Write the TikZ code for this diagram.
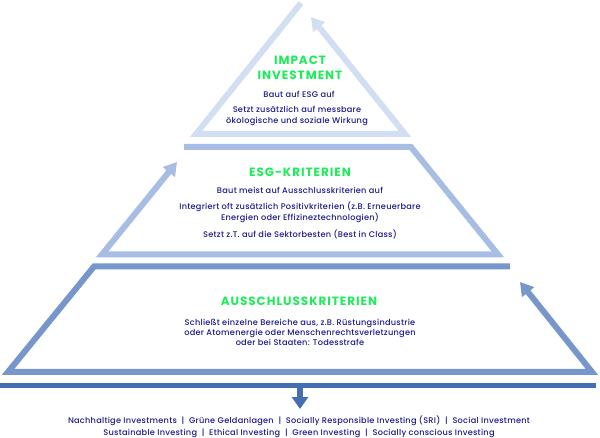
\documentclass[tikz,border=0pt]{standalone}
\usepackage{fontspec}
\setmainfont{Poppins}
\newfontfamily\headfont[LetterSpace=8]{Poppins}
\newfontfamily\bodyfont[LetterSpace=3]{Poppins Medium}
\usetikzlibrary{arrows.meta}
\definecolor{tierA}{HTML}{D2DEF2}
\definecolor{tierB}{HTML}{A8BDE3}
\definecolor{tierC}{HTML}{7696CC}
\definecolor{barblue}{HTML}{446EB4}
\definecolor{headgreen}{HTML}{1EEB5A}
\definecolor{textblue}{HTML}{1A1A8A}

\begin{document}
\begin{tikzpicture}[x=1pt, y=-1pt, line width=6pt,
	tip/.style={-{Triangle[length=13pt,width=15pt]}},
	head/.style={font=\headfont\bfseries\fontsize{12}{15}\selectfont, text=headgreen, align=center, inner sep=0pt},
	body/.style={font=\bodyfont\fontsize{8.2}{11}\selectfont, text=textblue, align=center, inner sep=0pt}]
		\useasboundingbox (0,0) rectangle (600,438);
		
		\coordinate (A) at (301,3);
		\coordinate (B) at (196,134);
		\coordinate (C) at (405,134);
		\coordinate (D) at (311,17);
		
		\coordinate (E) at (184,147);
		\coordinate (F) at (411,147);
		\coordinate (G) at (498,254.5);
		\coordinate (H) at (102,254.5);
		\coordinate (I) at (177,162);
		
		\coordinate (J) at (510,266.5);
		\coordinate (K) at (94,266.5);
		\coordinate (L) at (8,372);
		\coordinate (M) at (592,372);
		\coordinate (N) at (520,282);
		
		\coordinate (P) at (0,385.5);
		\coordinate (Q) at (596,385.5);
		\coordinate (R) at (300,385.5);
		\coordinate (S) at (300,409);
		
		\draw[tierA, tip] (A) -- (B) -- (C) -- (D);
		\draw[tierB, tip] (E) -- (F) -- (G) -- (H) -- (I);
		\draw[tierC, tip] (J) -- (K) -- (L) -- (M) -- (N);
		\draw[barblue, line width=5pt] (P) -- (Q);
		\draw[barblue, -{Triangle[length=12pt,width=16pt]}] (R) -- (S);
		
		\node[head] (impact) at (300,67.5) {IMPACT\\INVESTMENT};
		\node[body] (impact1) at (299,94) {Baut auf ESG auf};
		\node[body] (impact2) at (297,115.5) {Setzt zusätzlich auf messbare\\ökologische und soziale Wirkung};
		
		\node[head] (esg) at (300,172) {ESG-KRITERIEN};
		\node[body] (esg1) at (300,190) {Baut meist auf Ausschlusskriterien auf};
		\node[body] (esg2) at (300,212) {Integriert oft zusätzlich Positivkriterien (z.B. Erneuerbare\\Energien oder Effizineztechnologien)};
		\node[body] (esg3) at (300,234) {Setzt z.T. auf die Sektorbesten (Best in Class)};
		
		\node[head] (aus) at (299,301) {AUSSCHLUSSKRITERIEN};
		\node[body, font=\bodyfont\fontsize{8.2}{10}\selectfont] (aus1) at (300,332.5) {Schließt einzelne Bereiche aus, z.B. Rüstungsindustrie\\oder Atomenergie oder Menschenrechtsverletzungen\\oder bei Staaten: Todesstrafe};
		
		\node[body, font=\bodyfont\fontsize{8.2}{12}\selectfont] (names) at (299,427) {Nachhaltige Investments \ | \ Grüne Geldanlagen \ | \ Socially Responsible Investing (SRI) \ | \ Social Investment\\Sustainable Investing \ | \ Ethical Investing \ | \ Green Investing \ | \ Socially conscious Investing};
	\end{tikzpicture}
\end{document}
